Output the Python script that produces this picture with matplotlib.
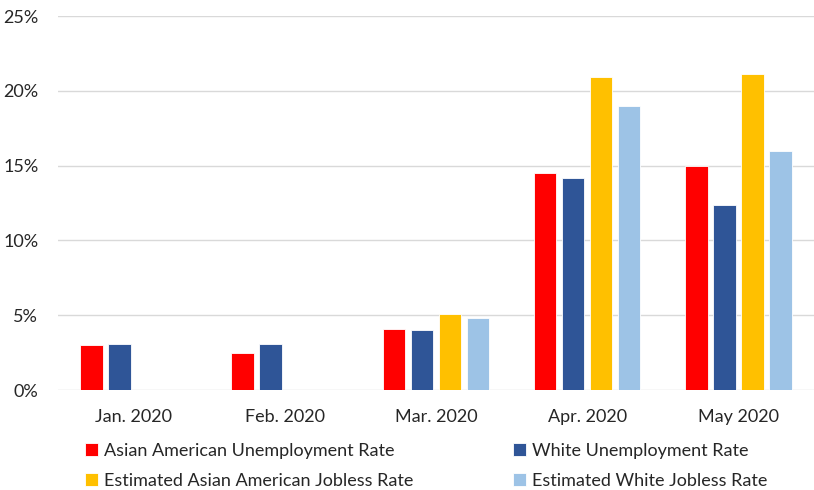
import matplotlib.pyplot as plt
import numpy as np

months = ["Jan. 2020", "Feb. 2020", "Mar. 2020", "Apr. 2020", "May 2020"]
series_names = ["Asian American Unemployment Rate", "White Unemployment Rate",
                "Estimated Asian American Jobless Rate", "Estimated White Jobless Rate"]
asian_unemp = [3.0, 2.5, 4.1, 14.5, 15.0]
white_unemp = [3.1, 3.1, 4.0, 14.2, 12.4]
asian_jobless = [np.nan, np.nan, 5.1, 20.9, 21.1]
white_jobless = [np.nan, np.nan, 4.8, 19.0, 16.0]
colors = ["#ff0000", "#2f5597", "#ffc000", "#9dc3e6"]

plt.rcParams["font.family"] = ["Lato", "DejaVu Sans"]

fig = plt.figure(figsize=(8.14, 4.90), dpi=100)
ax = fig.add_axes([0.071, 0.204, 0.929, 0.763])

x = np.arange(len(months))
step = 0.185
width = 0.148
handles = []
for i, (vals, col) in enumerate(zip([asian_unemp, white_unemp, asian_jobless, white_jobless], colors)):
    b = ax.bar(x + (i - 1.5) * step, vals, width, color=col, edgecolor="white", linewidth=0.6,
               label=series_names[i], zorder=3)
    handles.append(b)

ax.set_xlim(-0.5, 4.5)
ax.set_ylim(0, 25)
ax.set_yticks(range(0, 26, 5))
ax.set_yticklabels([f"{v}%" for v in range(0, 26, 5)])
ax.set_xticks(x)
ax.set_xticklabels(months)
ax.grid(axis="y", color="#d9d9d9", linewidth=1.0, zorder=0)
for s in ax.spines.values():
    s.set_visible(False)
ax.tick_params(axis="both", length=0, labelsize=13, labelcolor="#262626")
ax.tick_params(axis="x", pad=14)
ax.tick_params(axis="y", pad=14)

# legend: two rows, Excel-style ordering across
order = [0, 2, 1, 3]
fig.legend([handles[i] for i in order], [series_names[i] for i in order],
           ncol=2, loc="upper left", bbox_to_anchor=(0.105, 0.096), frameon=False,
           fontsize=13, handlelength=0.7, handleheight=0.7, handletextpad=0.35,
           columnspacing=5.5, labelspacing=0.75, borderaxespad=0, borderpad=0,
           labelcolor="#262626")

fig.savefig("out.png", dpi=100)
